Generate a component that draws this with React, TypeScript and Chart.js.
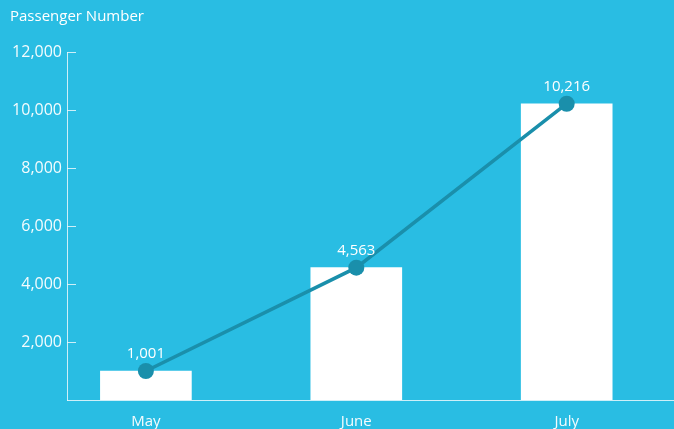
import React, { useEffect, useRef } from "react";
import { Chart, registerables } from "chart.js";

Chart.register(...registerables);

const categories = ["May", "June", "July"];
const passengers = [1001, 4563, 10216];
const yTicks = [0, 2000, 4000, 6000, 8000, 10000, 12000];
const chartTitle = "Passenger Number";

const BG = "#29bde3";
const LINE = "#1a8fab";
const AXIS = "rgba(235,248,252,0.85)";
const FONT = "'Open Sans', sans-serif";

export default function App() {
  const ref = useRef<HTMLCanvasElement | null>(null);

  useEffect(() => {
    document.body.style.margin = "0";
    const canvas = ref.current;
    if (!canvas) return;

    const fmt = (v: number) => v.toLocaleString("en-US");

    const extras = {
      id: "extras",
      afterDraw(chart: any) {
        const ctx = chart.ctx;
        const y = chart.scales.y;
        ctx.save();
        // inward tick marks on y axis
        ctx.strokeStyle = AXIS;
        ctx.lineWidth = 1;
        yTicks.forEach((t) => {
          if (t === 0) return;
          const py = Math.round(y.getPixelForValue(t)) + 0.5;
          ctx.beginPath();
          ctx.moveTo(y.right, py);
          ctx.lineTo(y.right + 9, py);
          ctx.stroke();
        });
        // title
        ctx.fillStyle = "#ffffff";
        ctx.font = `15px ${FONT}`;
        ctx.textAlign = "left";
        ctx.textBaseline = "middle";
        ctx.fillText(chartTitle, 10, 17);
        // data labels
        const meta = chart.getDatasetMeta(1);
        ctx.font = `15px ${FONT}`;
        ctx.textAlign = "center";
        meta.data.forEach((pt: any, i: number) => {
          ctx.fillText(fmt(passengers[i]), pt.x, pt.y - 17);
        });
        ctx.restore();
      },
    };

    const chart = new Chart(canvas, {
      type: "bar",
      data: {
        datasets: [
          {
            type: "bar",
            data: passengers.map((v, i) => ({ x: i, y: v })),
            backgroundColor: "#ffffff",
            barThickness: 91,
            order: 2,
          } as any,
          {
            type: "line",
            data: passengers.map((v, i) => ({ x: i, y: v })),
            borderColor: LINE,
            backgroundColor: LINE,
            borderWidth: 3.5,
            pointRadius: 8,
            pointBackgroundColor: LINE,
            pointBorderWidth: 0,
            tension: 0,
            order: 1,
          } as any,
        ],
      },
      plugins: [extras],
      options: {
        responsive: false,
        animation: false,
        layout: { autoPadding: false, padding: { top: 52, right: 0, left: 0, bottom: 0 } },
        plugins: {
          legend: { display: false },
          tooltip: { enabled: false },
          title: { display: false },
        },
        scales: {
          x: {
            type: "linear",
            offset: false,
            min: -0.375,
            max: 2.51,
            afterBuildTicks: (scale: any) => {
              scale.ticks = categories.map((_, i) => ({ value: i }));
            },
            afterFit: (scale: any) => {
              scale.height = 29;
            },
            grid: { display: false, drawTicks: false },
            border: { color: AXIS, width: 1 },
            ticks: {
              color: "rgba(255,255,255,0.95)",
              font: { family: FONT, size: 15 },
              padding: 13,
              maxRotation: 0,
              callback: (v: any) => categories[v as number] ?? "",
            },
          },
          y: {
            min: 0,
            max: 12000,
            afterBuildTicks: (scale: any) => {
              scale.ticks = yTicks.map((v) => ({ value: v }));
            },
            afterFit: (scale: any) => {
              scale.width = 67;
            },
            grid: { display: false, drawTicks: false },
            border: { color: AXIS, width: 1 },
            ticks: {
              color: "rgba(255,255,255,0.95)",
              font: { family: FONT, size: 16 },
              padding: 5,
              callback: (v: any) => (v === 0 ? "" : fmt(v as number)),
            },
          },
        },
      } as any,
    });

    return () => chart.destroy();
  }, []);

  return (
    <div style={{ width: 674, height: 429, background: BG }}>
      <canvas ref={ref} width={674} height={429} style={{ display: "block" }} />
    </div>
  );
}
